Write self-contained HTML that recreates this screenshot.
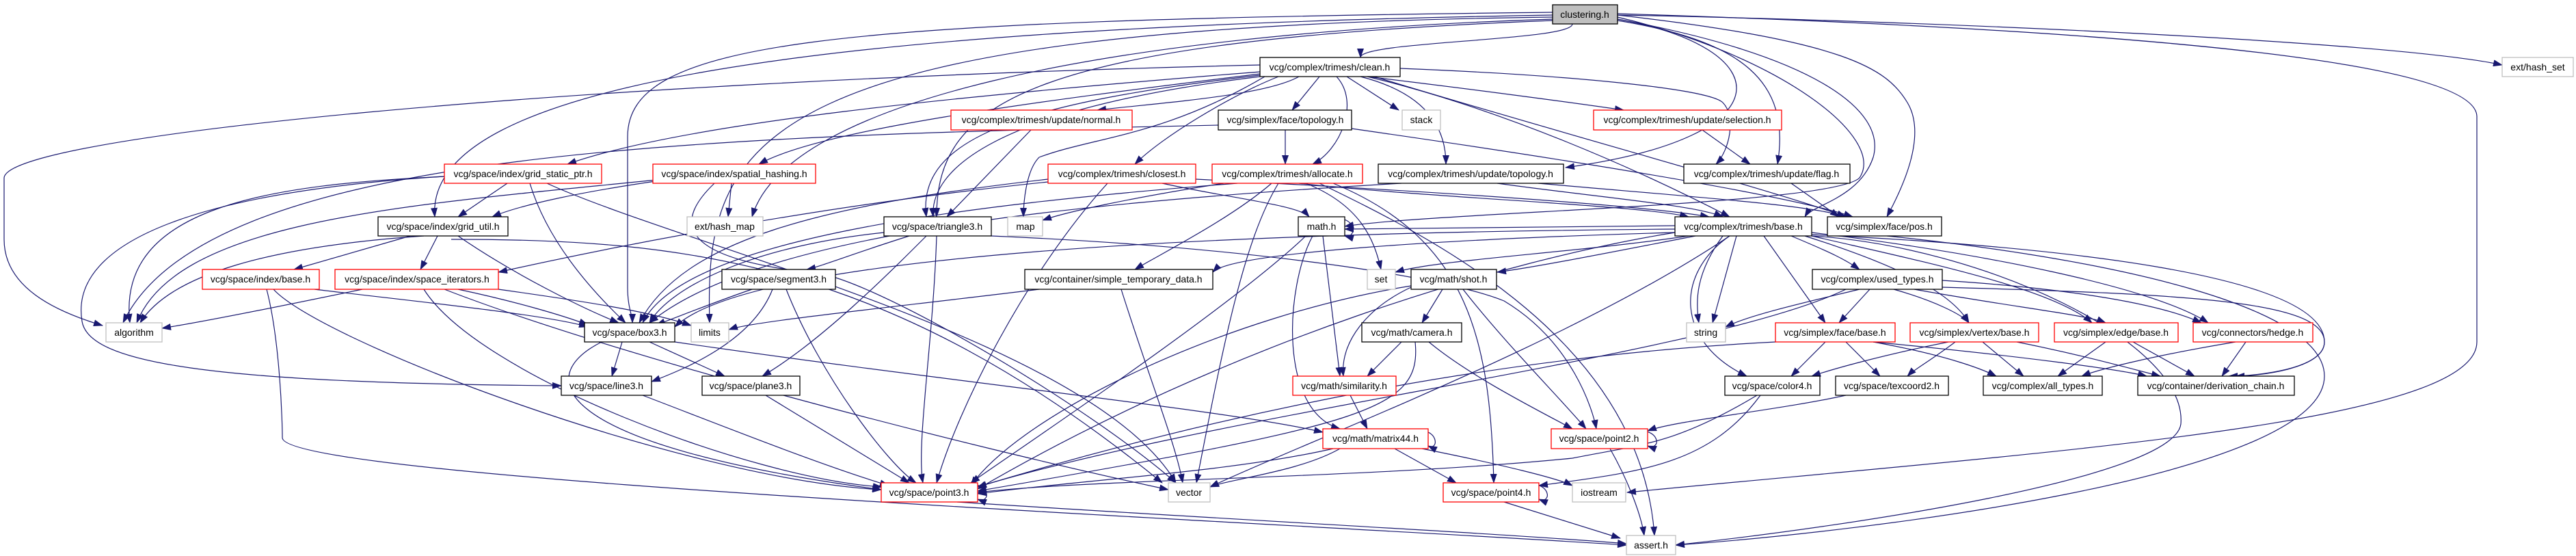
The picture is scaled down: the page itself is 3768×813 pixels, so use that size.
<!DOCTYPE html>
<html><head><meta charset="utf-8"><style>
html,body{margin:0;padding:0;background:#fff;}
svg{display:block;}
text{font-family:"Liberation Sans",sans-serif;font-size:14px;fill:#000;}
</style></head><body>
<svg width="3768" height="813" viewBox="0 0 3768 813" xmlns="http://www.w3.org/2000/svg">
<defs><marker id="a" markerWidth="14" markerHeight="10" refX="13" refY="5" orient="auto" markerUnits="userSpaceOnUse"><path d="M0,0 L14,5 L0,10 z" fill="#191970"/></marker></defs>
<g fill="none" stroke="#191970" stroke-width="1.2" marker-end="url(#a)">
<path d="M2300,35 C2300,60 1990,60 1990,84"/>
<path d="M2366,22 C2800,30 3500,60 3660,95"/>
<path d="M2271,22 C1200,40 620,120 636,317"/>
<path d="M2271,25 C1100,40 1030,200 1038,472"/>
<path d="M1843,95 C800,120 10,200 6,260 L6,350 C6,420 80,455 150,476"/>
<path d="M2271,28 C1600,50 1150,150 1100,317"/>
<path d="M2271,30 C1500,60 1370,150 1370,317"/>
<path d="M2271,18 C1200,30 918,60 918,200 L918,420 C918,450 925,460 925,472"/>
<path d="M2366,28 C2600,70 2620,200 2290,245"/>
<path d="M2366,30 C2550,60 2620,120 2600,240"/>
<path d="M2366,28 C2650,80 2760,160 2740,230 C2720,290 2650,300 2640,317"/>
<path d="M2366,22 C2700,60 2760,100 2790,150 C2820,200 2780,280 2760,317"/>
<path d="M2366,25 C2600,80 2760,200 2720,260 C2680,300 2100,310 1967,331"/>
<path d="M2366,20 C3000,40 3620,80 3623,170 L3623,500 C3623,620 3000,660 2380,720"/>
<path d="M1843,105 C1400,140 1000,180 830,240"/>
<path d="M1843,108 C1500,150 1200,190 1110,240"/>
<path d="M1900,112 C1850,140 1700,150 1605,161"/>
<path d="M1930,112 L1890,161"/>
<path d="M1970,112 L2046,161"/>
<path d="M2000,112 C2150,130 2300,150 2375,161"/>
<path d="M1870,112 C1800,140 1700,200 1660,240"/>
<path d="M1955,112 C1990,150 1960,220 1920,240"/>
<path d="M1990,112 C2100,140 2115,200 2115,240"/>
<path d="M2048,100 C2300,110 2500,130 2520,150 C2540,170 2530,220 2510,240"/>
<path d="M2000,112 C2200,160 2400,250 2530,317"/>
<path d="M2010,112 C2300,200 2600,280 2700,317"/>
<path d="M1843,110 C1500,150 1340,200 1355,317"/>
<path d="M1843,112 C1450,160 1360,250 1365,317"/>
<path d="M1850,112 C1700,200 1600,200 1520,230 C1500,250 1497,300 1497,317"/>
<path d="M1508,190 L1385,317"/>
<path d="M1880,190 L1880,240"/>
<path d="M1977,188 C2200,220 2600,280 2710,317"/>
<path d="M1782,183 C1000,200 300,220 180,472"/>
<path d="M2490,190 L2560,240"/>
<path d="M650,258 C400,270 170,300 190,472"/>
<path d="M742,268 L670,317"/>
<path d="M775,268 C800,350 860,420 915,472"/>
<path d="M800,268 C1000,360 1600,500 1720,706"/>
<path d="M650,258 C300,280 100,350 120,470 C130,530 300,560 821,564"/>
<path d="M980,262 C850,280 760,300 720,317"/>
<path d="M1070,268 L1065,317"/>
<path d="M970,262 C600,300 260,320 200,472"/>
<path d="M1045,268 C980,330 1000,380 1200,400 C1300,420 1600,600 1720,706"/>
<path d="M1533,262 C1200,300 1000,350 935,472"/>
<path d="M1700,268 C1800,290 1900,300 1915,317"/>
<path d="M1620,268 C1500,400 1400,600 1370,706"/>
<path d="M1749,262 C2100,280 2400,300 2500,317"/>
<path d="M1533,266 C1200,300 900,360 729,398"/>
<path d="M1900,268 C2100,290 2400,300 2470,317"/>
<path d="M1870,268 C1820,350 1790,500 1750,706"/>
<path d="M1860,268 C1800,320 1700,370 1660,394"/>
<path d="M1910,268 C1990,300 2010,350 2020,394"/>
<path d="M1930,268 C2100,350 2400,500 2420,783"/>
<path d="M1950,268 C2150,350 2180,500 2185,706"/>
<path d="M1790,268 C1650,290 1560,310 1525,322"/>
<path d="M1810,268 C1400,300 1000,350 940,472"/>
<path d="M2190,268 C2350,290 2480,300 2520,317"/>
<path d="M2250,268 C2500,290 2650,300 2700,317"/>
<path d="M2050,268 C1500,300 1100,350 950,472"/>
<path d="M2620,268 L2690,317"/>
<path d="M620,345 C400,360 250,400 205,472"/>
<path d="M600,345 L430,394"/>
<path d="M640,345 L615,394"/>
<path d="M670,345 C750,400 850,450 905,472"/>
<path d="M660,350 C1000,350 1300,380 1700,706"/>
<path d="M1330,345 C1250,370 1200,390 1180,394"/>
<path d="M1355,345 C1300,400 1200,500 1115,550"/>
<path d="M1370,345 C1365,500 1340,650 1350,706"/>
<path d="M1293,340 C1100,360 980,420 950,472"/>
<path d="M1450,345 C1800,360 2100,400 2200,440 C2300,500 2330,600 2335,627"/>
<path d="M1935,345 L1960,550"/>
<path d="M1920,345 C1880,420 1870,600 1960,627"/>
<path d="M1910,345 C1800,450 1500,650 1420,706"/>
<path d="M2470,345 C2300,370 2100,380 2041,398"/>
<path d="M2480,345 C2350,370 2250,390 2190,398"/>
<path d="M2620,345 C2680,370 2700,380 2720,394"/>
<path d="M2540,345 L2505,472"/>
<path d="M2520,345 C2480,400 2480,440 2485,472"/>
<path d="M2580,345 L2670,472"/>
<path d="M2640,345 C2750,380 2850,420 2880,472"/>
<path d="M2650,345 C2800,380 3000,420 3060,472"/>
<path d="M2650,340 C2900,370 3150,420 3230,472"/>
<path d="M2650,343 C3000,360 3400,400 3400,500 C3400,540 3300,550 3270,550"/>
<path d="M2530,345 C2450,400 2450,500 2555,550"/>
<path d="M2530,345 C2300,500 1900,650 1770,712"/>
<path d="M2650,345 C2900,360 3200,500 3190,620 C3180,700 2700,770 2451,797"/>
<path d="M2450,340 C2100,350 1800,370 1774,398"/>
<path d="M2450,335 C1800,340 1100,370 987,478"/>
<path d="M2450,340 C2200,380 1800,500 1430,715"/>
<path d="M2450,330 L1967,335"/>
<path d="M2760,345 C3100,380 3400,450 3400,550 C3400,700 2700,780 2451,797"/>
<path d="M460,423 C600,440 800,460 860,478"/>
<path d="M400,423 C470,500 1000,700 1289,716"/>
<path d="M390,423 C410,500 413,620 413,640 C413,700 1800,760 2379,797"/>
<path d="M530,423 C400,450 300,470 237,480"/>
<path d="M670,423 C750,440 820,460 860,475"/>
<path d="M729,423 C850,440 950,455 1011,476"/>
<path d="M620,423 C700,550 1100,700 1290,712"/>
<path d="M650,423 C900,520 1400,650 1709,716"/>
<path d="M1100,423 C1050,440 1000,460 960,475"/>
<path d="M1130,423 C1100,500 1000,540 953,558"/>
<path d="M1150,423 C1200,550 1300,680 1340,706"/>
<path d="M1520,423 C1300,450 1100,470 1066,482"/>
<path d="M1640,423 C1680,550 1720,650 1730,706"/>
<path d="M2064,420 C2000,450 1960,500 1965,550"/>
<path d="M2110,423 L2080,472"/>
<path d="M2140,423 C2200,500 2280,580 2320,627"/>
<path d="M2064,418 C1800,460 1500,600 1420,710"/>
<path d="M2720,423 C2650,440 2560,460 2524,478"/>
<path d="M2735,423 L2690,472"/>
<path d="M2770,423 C2830,440 2870,460 2880,472"/>
<path d="M2800,423 C2950,450 3050,460 3080,472"/>
<path d="M2841,410 C3000,420 3150,440 3220,472"/>
<path d="M2841,420 C3200,430 3400,440 3400,500 C3400,540 3300,550 3260,550"/>
<path d="M2700,423 C2500,520 1800,600 1430,712"/>
<path d="M910,500 L895,550"/>
<path d="M950,500 L1060,550"/>
<path d="M880,500 C780,550 800,650 1289,716"/>
<path d="M987,500 C1400,560 1800,600 1935,632"/>
<path d="M2050,500 L2000,550"/>
<path d="M2090,500 C2150,550 2250,600 2300,627"/>
<path d="M2070,500 C2080,600 2000,620 1430,718"/>
<path d="M2670,500 L2620,550"/>
<path d="M2700,500 L2750,550"/>
<path d="M2740,500 C2850,520 2900,540 2920,550"/>
<path d="M2740,500 C2950,520 3100,540 3140,550"/>
<path d="M2597,500 C2200,520 1800,600 1430,712"/>
<path d="M2850,500 C2750,520 2680,540 2650,550"/>
<path d="M2860,500 C2820,530 2800,540 2790,550"/>
<path d="M2900,500 L2960,550"/>
<path d="M2950,500 C3050,520 3120,540 3160,550"/>
<path d="M3080,500 L3010,550"/>
<path d="M3120,500 L3210,550"/>
<path d="M3270,500 C3150,520 3070,540 3045,550"/>
<path d="M3285,500 L3250,550"/>
<path d="M940,578 C1050,620 1200,680 1300,710"/>
<path d="M1120,578 L1330,706"/>
<path d="M1975,578 L2000,627"/>
<path d="M2570,578 C2450,650 2400,650 2300,670 C2000,700 1600,700 1430,720"/>
<path d="M2575,578 C2500,680 2400,690 2251,710"/>
<path d="M2700,578 C2600,600 2450,615 2410,630"/>
<path d="M1950,656 C1800,690 1600,700 1430,722"/>
<path d="M1960,656 C1900,690 1800,700 1770,712"/>
<path d="M2040,656 L2130,706"/>
<path d="M2080,656 C2200,680 2280,700 2300,710"/>
<path d="M2355,656 C2380,700 2400,750 2405,783"/>
<path d="M1400,734 C1800,760 2200,780 2379,795"/>
<path d="M2200,734 L2370,787"/>
<path d="M1950,320 C1985,315 1985,350 1967,345"/>
<path d="M2070,630 C2105,625 2105,660 2089,652"/>
<path d="M2390,630 C2430,625 2430,660 2410,652"/>
<path d="M1410,708 C1450,703 1450,738 1430,730"/>
<path d="M2230,708 C2270,703 2270,738 2251,730"/>
</g>
<g stroke-width="1.3" fill="#fff">
<rect x="2271" y="7" width="95" height="28" fill="#bfbfbf" stroke="#000"/>
<rect x="1843" y="84" width="205" height="28" stroke="#000"/>
<rect x="3660" y="84" width="104" height="28" stroke="#bfbfbf"/>
<rect x="1391" y="161" width="265" height="29" stroke="#f00"/>
<rect x="1782" y="161" width="195" height="29" stroke="#000"/>
<rect x="2051" y="161" width="56" height="29" stroke="#bfbfbf"/>
<rect x="2331" y="161" width="275" height="29" stroke="#f00"/>
<rect x="650" y="240" width="230" height="28" stroke="#f00"/>
<rect x="955" y="240" width="238" height="28" stroke="#f00"/>
<rect x="1533" y="240" width="216" height="28" stroke="#f00"/>
<rect x="1773" y="240" width="220" height="28" stroke="#f00"/>
<rect x="2016" y="240" width="271" height="28" stroke="#000"/>
<rect x="2463" y="240" width="243" height="28" stroke="#000"/>
<rect x="553" y="317" width="190" height="28" stroke="#000"/>
<rect x="1005" y="317" width="111" height="28" stroke="#bfbfbf"/>
<rect x="1293" y="317" width="157" height="28" stroke="#000"/>
<rect x="1474" y="317" width="51" height="28" stroke="#bfbfbf"/>
<rect x="1899" y="317" width="68" height="28" stroke="#000"/>
<rect x="2450" y="317" width="200" height="28" stroke="#000"/>
<rect x="2673" y="317" width="167" height="28" stroke="#000"/>
<rect x="296" y="394" width="171" height="29" stroke="#f00"/>
<rect x="490" y="394" width="239" height="29" stroke="#f00"/>
<rect x="1056" y="394" width="166" height="29" stroke="#000"/>
<rect x="1499" y="394" width="275" height="29" stroke="#000"/>
<rect x="2000" y="394" width="41" height="29" stroke="#bfbfbf"/>
<rect x="2064" y="394" width="125" height="29" stroke="#000"/>
<rect x="2651" y="394" width="190" height="29" stroke="#000"/>
<rect x="155" y="472" width="82" height="28" stroke="#bfbfbf"/>
<rect x="855" y="472" width="132" height="28" stroke="#000"/>
<rect x="1011" y="472" width="55" height="28" stroke="#bfbfbf"/>
<rect x="1992" y="472" width="146" height="28" stroke="#000"/>
<rect x="2467" y="472" width="57" height="28" stroke="#bfbfbf"/>
<rect x="2597" y="472" width="175" height="28" stroke="#f00"/>
<rect x="2794" y="472" width="188" height="28" stroke="#f00"/>
<rect x="3005" y="472" width="181" height="28" stroke="#f00"/>
<rect x="3208" y="472" width="175" height="28" stroke="#f00"/>
<rect x="821" y="550" width="132" height="28" stroke="#000"/>
<rect x="1027" y="550" width="143" height="28" stroke="#000"/>
<rect x="1891" y="550" width="151" height="28" stroke="#f00"/>
<rect x="2523" y="550" width="139" height="28" stroke="#000"/>
<rect x="2685" y="550" width="165" height="28" stroke="#000"/>
<rect x="2901" y="550" width="174" height="28" stroke="#000"/>
<rect x="3127" y="550" width="229" height="28" stroke="#000"/>
<rect x="1935" y="627" width="154" height="29" stroke="#f00"/>
<rect x="2269" y="627" width="141" height="29" stroke="#f00"/>
<rect x="1289" y="706" width="141" height="28" stroke="#f00"/>
<rect x="1709" y="706" width="61" height="28" stroke="#bfbfbf"/>
<rect x="2111" y="706" width="140" height="28" stroke="#f00"/>
<rect x="2300" y="706" width="78" height="28" stroke="#bfbfbf"/>
<rect x="2379" y="783" width="72" height="28" stroke="#bfbfbf"/>
</g>
<g text-anchor="middle" lengthAdjust="spacingAndGlyphs">
<text x="2318" y="26">clustering.h</text>
<text x="1945" y="103">vcg/complex/trimesh/clean.h</text>
<text x="3712" y="103">ext/hash_set</text>
<text x="1523" y="180">vcg/complex/trimesh/update/normal.h</text>
<text x="1880" y="180">vcg/simplex/face/topology.h</text>
<text x="2079" y="180">stack</text>
<text x="2468" y="180">vcg/complex/trimesh/update/selection.h</text>
<text x="765" y="259">vcg/space/index/grid_static_ptr.h</text>
<text x="1074" y="259">vcg/space/index/spatial_hashing.h</text>
<text x="1641" y="259">vcg/complex/trimesh/closest.h</text>
<text x="1883" y="259">vcg/complex/trimesh/allocate.h</text>
<text x="2151" y="259">vcg/complex/trimesh/update/topology.h</text>
<text x="2584" y="259">vcg/complex/trimesh/update/flag.h</text>
<text x="648" y="336">vcg/space/index/grid_util.h</text>
<text x="1060" y="336">ext/hash_map</text>
<text x="1371" y="336">vcg/space/triangle3.h</text>
<text x="1500" y="336">map</text>
<text x="1933" y="336">math.h</text>
<text x="2550" y="336">vcg/complex/trimesh/base.h</text>
<text x="2756" y="336">vcg/simplex/face/pos.h</text>
<text x="381" y="413">vcg/space/index/base.h</text>
<text x="610" y="413">vcg/space/index/space_iterators.h</text>
<text x="1139" y="413">vcg/space/segment3.h</text>
<text x="1636" y="413">vcg/container/simple_temporary_data.h</text>
<text x="2020" y="413">set</text>
<text x="2126" y="413">vcg/math/shot.h</text>
<text x="2746" y="413">vcg/complex/used_types.h</text>
<text x="196" y="491">algorithm</text>
<text x="921" y="491">vcg/space/box3.h</text>
<text x="1038" y="491">limits</text>
<text x="2065" y="491">vcg/math/camera.h</text>
<text x="2495" y="491">string</text>
<text x="2684" y="491">vcg/simplex/face/base.h</text>
<text x="2888" y="491">vcg/simplex/vertex/base.h</text>
<text x="3095" y="491">vcg/simplex/edge/base.h</text>
<text x="3295" y="491">vcg/connectors/hedge.h</text>
<text x="887" y="569">vcg/space/line3.h</text>
<text x="1098" y="569">vcg/space/plane3.h</text>
<text x="1966" y="569">vcg/math/similarity.h</text>
<text x="2592" y="569">vcg/space/color4.h</text>
<text x="2767" y="569">vcg/space/texcoord2.h</text>
<text x="2988" y="569">vcg/complex/all_types.h</text>
<text x="3241" y="569">vcg/container/derivation_chain.h</text>
<text x="2012" y="646">vcg/math/matrix44.h</text>
<text x="2339" y="646">vcg/space/point2.h</text>
<text x="1359" y="725">vcg/space/point3.h</text>
<text x="1739" y="725">vector</text>
<text x="2181" y="725">vcg/space/point4.h</text>
<text x="2339" y="725">iostream</text>
<text x="2415" y="802">assert.h</text>
</g>
</svg>
</body></html>
